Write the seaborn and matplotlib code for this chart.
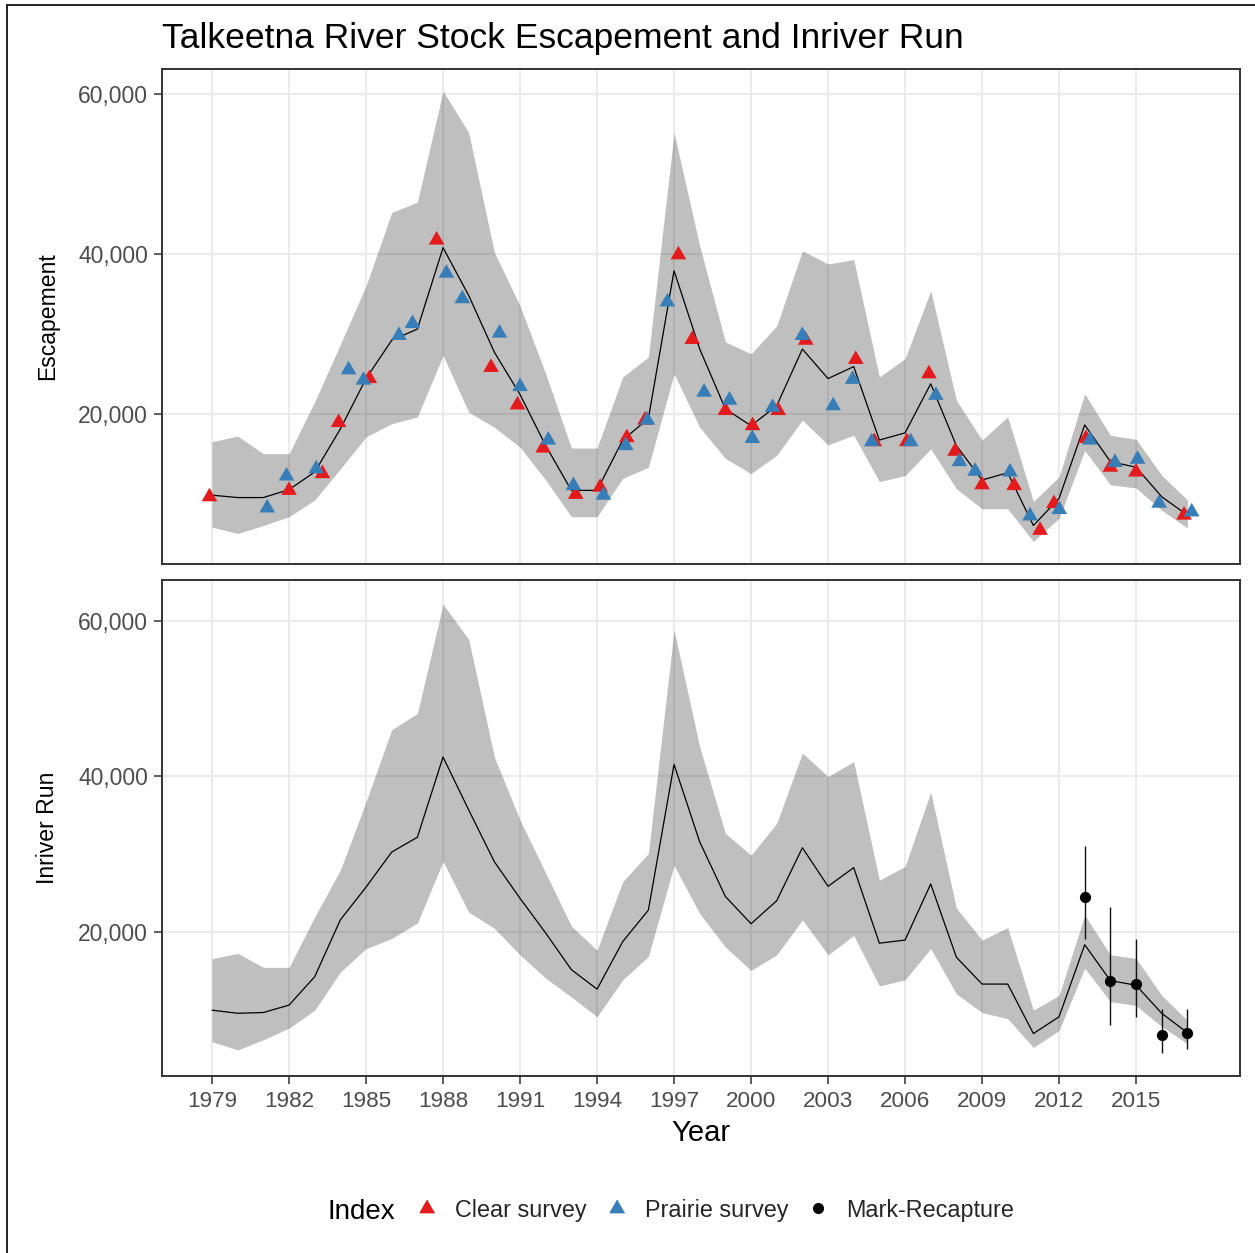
import numpy as np
import pandas as pd
import matplotlib
matplotlib.use("Agg")
import matplotlib.pyplot as plt
from matplotlib.lines import Line2D
from matplotlib.ticker import FuncFormatter, FixedLocator
import seaborn as sns

# ---------------------------------------------------------------- data
years = list(range(1979, 2018))

# Model escapement estimate with its interval
esc_mid = [9800, 9500, 9500, 10500, 12700, 18100, 24400, 29200, 30600, 40800,
           34800, 27700, 22400, 16000, 10400, 10400, 16700, 19400, 37900, 28100,
           20600, 18500, 21000, 28100, 24400, 25900, 16700, 17600, 23750, 16000,
           11700, 12600, 6000, 9400, 18600, 14000, 13300, 9600, 7300]
esc_hi = [16500, 17200, 15000, 15000, 21500, 28700, 36000, 45200, 46500, 60400,
          55200, 40200, 33500, 25000, 15700, 15700, 24600, 27100, 55200, 41000,
          29000, 27500, 31000, 40400, 38750, 39300, 24600, 26900, 35400, 21700,
          16700, 19600, 9000, 12100, 22500, 17300, 16800, 12300, 9200]
esc_lo = [5800, 5000, 6000, 7100, 9200, 13100, 17100, 18750, 19600, 27300,
          20200, 18300, 15800, 11700, 7100, 7100, 11900, 13300, 25000, 18300,
          14400, 12500, 14800, 19200, 16100, 17300, 11500, 12250, 15600, 10600,
          8100, 8100, 4000, 6900, 15400, 11100, 10700, 7900, 5700]

# Model inriver run estimate with its interval
run_mid = [10000, 9600, 9700, 10650, 14300, 21600, 25800, 30300, 32200, 42500,
           35700, 29050, 24350, 19900, 15200, 12700, 18800, 22850, 41550, 31600,
           24600, 21100, 24050, 30850, 25900, 28300, 18600, 19000, 26200, 16800,
           13350, 13350, 7000, 9150, 18400, 13800, 13200, 9600, 7100]
run_hi = [16600, 17300, 15500, 15500, 22000, 28000, 36750, 46000, 48100, 62100,
          57600, 42500, 34400, 27600, 20800, 17700, 26500, 30100, 58800, 43800,
          32700, 29900, 34000, 43000, 40000, 41900, 26700, 28450, 38000, 23100,
          19000, 20600, 10000, 11900, 22200, 17100, 16650, 11900, 8700]
run_lo = [5950, 4900, 6200, 7700, 10000, 14900, 17900, 19200, 21200, 29100,
          22600, 20500, 17100, 14100, 11700, 9150, 13900, 16900, 28600, 22400,
          18100, 15100, 17100, 21600, 17100, 19600, 13100, 13900, 17900, 12100,
          9700, 8900, 5200, 7400, 15400, 11100, 10600, 7900, 5700]

# Clear-water aerial survey index (scaled)
clear_years = [1979, 1982, 1983, 1984, 1985, 1988, 1990, 1991, 1992, 1993,
               1994, 1995, 1996, 1997, 1998, 1999, 2000, 2001, 2002, 2004,
               2005, 2006, 2007, 2008, 2009, 2010, 2011, 2012, 2013, 2014,
               2015, 2017]
clear_vals = [9600, 10400, 12500, 18900, 24400, 41750, 25800, 21100, 15700, 9900,
              10800, 17000, 19200, 39900, 29300, 20400, 18500, 20400, 29200, 26800,
              16500, 16500, 25000, 15300, 11100, 11000, 5400, 8750, 16900, 13300,
              12700, 7300]
clear_jitter = [-0.10, 0.00, 0.30, -0.07, 0.13, -0.25, -0.13, -0.10, -0.10, 0.17,
                0.12, 0.16, -0.13, 0.17, -0.29, 0.00, 0.06, 0.06, 0.13, 0.08,
                -0.20, 0.07, -0.07, -0.05, 0.00, 0.25, 0.26, -0.20, 0.05, 0.00,
                0.00, -0.13]

# Prairie-creek survey index (scaled)
prairie_years = [1981, 1982, 1983, 1984, 1985, 1986, 1987, 1988, 1989, 1990,
                 1991, 1992, 1993, 1994, 1995, 1996, 1997, 1998, 1999, 2000,
                 2001, 2002, 2003, 2004, 2005, 2006, 2007, 2008, 2009, 2010,
                 2011, 2012, 2013, 2014, 2015, 2016, 2017]
prairie_vals = [8200, 12200, 13100, 25500, 24200, 29800, 31300, 37600, 34400, 30100,
                23400, 16700, 11000, 9800, 16000, 19200, 34000, 22700, 21700, 16900,
                20800, 29800, 21000, 24300, 16500, 16500, 22300, 14000, 12800, 12700,
                7200, 8000, 16700, 13900, 14300, 8800, 7700]
prairie_jitter = [0.15, -0.10, 0.06, 0.32, -0.10, 0.28, -0.19, 0.13, -0.25, 0.20,
                  0.00, 0.10, 0.08, 0.25, 0.12, -0.04, -0.26, 0.17, 0.16, 0.05,
                  -0.16, 0.00, 0.20, -0.04, -0.30, 0.22, 0.20, 0.12, -0.27, 0.09,
                  -0.13, 0.01, 0.20, 0.18, 0.06, -0.10, 0.17]

# Mark-recapture inriver run estimates with intervals
mr_years = [2013, 2014, 2015, 2016, 2017]
mr_est = [24500, 13800, 13300, 6800, 7100]
mr_lo = [19100, 8100, 9150, 4450, 5000]
mr_hi = [31100, 23300, 19200, 10200, 10100]

year_ticks = list(range(1979, 2016, 3))
y_ticks = [20000, 40000, 60000]

title = "Talkeetna River Stock Escapement and Inriver Run"
index_labels = ["Clear survey", "Prairie survey", "Mark-Recapture"]
index_colors = ["#E41A1C", "#377EB8", "#000000"]

# ---------------------------------------------------------------- frames
model = pd.DataFrame({"Year": years, "esc": esc_mid, "esc_lo": esc_lo, "esc_hi": esc_hi,
                      "run": run_mid, "run_lo": run_lo, "run_hi": run_hi})
surveys = pd.concat([
    pd.DataFrame({"Year": np.array(clear_years) + np.array(clear_jitter),
                  "Escapement": clear_vals, "Index": index_labels[0]}),
    pd.DataFrame({"Year": np.array(prairie_years) + np.array(prairie_jitter),
                  "Escapement": prairie_vals, "Index": index_labels[1]}),
], ignore_index=True)
mr = pd.DataFrame({"Year": mr_years, "Run": mr_est, "lo": mr_lo, "hi": mr_hi})

# ---------------------------------------------------------------- style
sns.set_theme(style="white")
plt.rcParams["font.family"] = ["Liberation Sans", "DejaVu Sans"]

W, H = 1255, 1253
fig = plt.figure(figsize=(W / 100, H / 100), dpi=100)

def fx(px):
    return px / W

def fy(py):
    return 1 - py / H

left, right = 162, 1240
ax1 = fig.add_axes([fx(left), fy(564), fx(right - left), (564 - 69) / H])
ax2 = fig.add_axes([fx(left), fy(1076), fx(right - left), (1076 - 580.5) / H])

tri = [(0, 1), (-0.866, -0.5), (0.866, -0.5)]
grid_col = "#EBEBEB"
border_col = "#333333"
tick_col = "#4D4D4D"

for ax in (ax1, ax2):
    ax.set_facecolor("white")
    ax.set_xlim(1977.05, 2019.05)
    ax.xaxis.set_major_locator(FixedLocator(year_ticks))
    ax.yaxis.set_major_locator(FixedLocator(y_ticks))
    ax.yaxis.set_major_formatter(FuncFormatter(lambda v, p: f"{v:,.0f}"))
    ax.grid(True, color=grid_col, lw=1.5, zorder=0)
    ax.set_axisbelow(True)
    for s in ax.spines.values():
        s.set_color(border_col)
        s.set_linewidth(1.4)
        s.set_zorder(6)
    ax.tick_params(axis="y", direction="out", length=6, width=1.1, color=border_col,
                   labelsize=16.5, labelcolor=tick_col, pad=4, left=True)

ax1.set_ylim(1180, 63170)
ax2.set_ylim(1550, 65160)
ax1.tick_params(axis="x", bottom=False, labelbottom=False)
ax2.tick_params(axis="x", direction="out", length=6, width=1.1, color=border_col,
                labelsize=16.2, labelcolor=tick_col, pad=5, bottom=True)

# Escapement panel
ax1.fill_between(model["Year"], model["esc_lo"], model["esc_hi"],
                 color="black", alpha=0.25, lw=0, zorder=2)
sns.lineplot(data=model, x="Year", y="esc", ax=ax1, color="black", lw=0.9, zorder=3)
sns.scatterplot(data=surveys, x="Year", y="Escapement", hue="Index",
                hue_order=index_labels[:2], palette=index_colors[:2],
                marker=tri, s=170, linewidth=0, ax=ax1, legend=False, zorder=4)

# Inriver run panel
ax2.fill_between(model["Year"], model["run_lo"], model["run_hi"],
                 color="black", alpha=0.25, lw=0, zorder=2)
sns.lineplot(data=model, x="Year", y="run", ax=ax2, color="black", lw=0.9, zorder=3)
ax2.vlines(mr["Year"], mr["lo"], mr["hi"], color="#111111", lw=1.0, zorder=4)
sns.scatterplot(data=mr, x="Year", y="Run", color="black", s=65, linewidth=0,
                ax=ax2, legend=False, zorder=5)

for ax in (ax1, ax2):
    ax.set_xlabel("")
    ax.set_ylabel("")

# Titles and axis titles
fig.text(fx(162), fy(48), title, fontsize=25.5, color="black", ha="left", va="baseline")
fig.text(fx(48), fy(316.5), "Escapement", fontsize=16.6, rotation=90,
         ha="center", va="center", color="black")
fig.text(fx(48), fy(828), "Inriver Run", fontsize=16.6, rotation=90,
         ha="center", va="center", color="black")
fig.text(fx(701), fy(1133), "Year", fontsize=21, ha="center", va="center", color="black")

# Legend
fig.text(fx(327), fy(1219), "Index", fontsize=20, ha="left", va="baseline", color="black")
handles = [
    Line2D([], [], ls="", marker=tri, color=index_colors[0], ms=12),
    Line2D([], [], ls="", marker=tri, color=index_colors[1], ms=12),
    Line2D([], [], ls="", marker="o", color=index_colors[2], ms=7),
]
fig.legend(handles, index_labels, loc="center left", bbox_to_anchor=(fx(415), fy(1210)),
           ncol=3, frameon=False, fontsize=16.8, handlelength=1.0, handletextpad=0.7,
           columnspacing=0.8, borderpad=0, borderaxespad=0)

# Outer frame (left and top edges)
fig.add_artist(Line2D([fx(7), fx(7)], [fy(5), -0.1], color="#222222", lw=1.4,
                      transform=fig.transFigure))
fig.add_artist(Line2D([fx(7), 1.1], [fy(5), fy(5)], color="#222222", lw=1.4,
                      transform=fig.transFigure))

fig.savefig("out.png", dpi=100, facecolor="white")
